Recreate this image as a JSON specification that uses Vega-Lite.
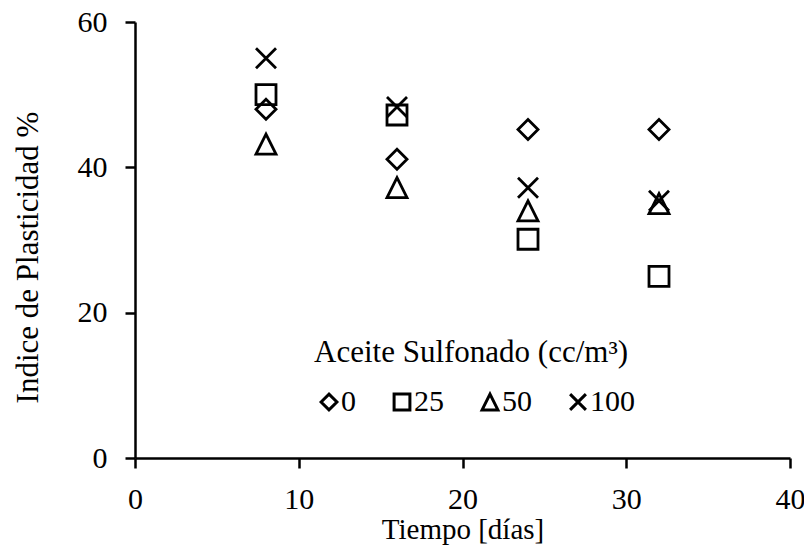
{
  "$schema": "https://vega.github.io/schema/vega-lite/v6.json",
  "width": 655,
  "height": 436,
  "autosize": {"type": "none"},
  "padding": {"left": 135, "top": 22, "right": 14, "bottom": 90},
  "background": "white",
  "config": {"view": {"stroke": null}, "font": "Liberation Serif"},
  "data": {"values": [
    {"dias": 8, "aceite": 0, "ip": 48.0},
    {"dias": 8, "aceite": 25, "ip": 50.0},
    {"dias": 8, "aceite": 50, "ip": 43.2},
    {"dias": 8, "aceite": 100, "ip": 55.0},
    {"dias": 16, "aceite": 0, "ip": 41.1},
    {"dias": 16, "aceite": 25, "ip": 47.2},
    {"dias": 16, "aceite": 50, "ip": 37.2},
    {"dias": 16, "aceite": 100, "ip": 48.3},
    {"dias": 24, "aceite": 0, "ip": 45.2},
    {"dias": 24, "aceite": 25, "ip": 30.1},
    {"dias": 24, "aceite": 50, "ip": 34.0},
    {"dias": 24, "aceite": 100, "ip": 37.2},
    {"dias": 32, "aceite": 0, "ip": 45.2},
    {"dias": 32, "aceite": 25, "ip": 25.0},
    {"dias": 32, "aceite": 50, "ip": 35.0},
    {"dias": 32, "aceite": 100, "ip": 35.4}
  ]},
  "mark": {"type": "point", "filled": false, "size": 400, "strokeWidth": 2.8, "opacity": 1, "color": "black"},
  "encoding": {
    "x": {
      "field": "dias", "type": "quantitative",
      "scale": {"domain": [0, 40], "nice": false, "zero": false},
      "axis": {
        "values": [0, 10, 20, 30, 40], "grid": false, "title": "Tiempo [días]",
        "domainColor": "black", "domainWidth": 2.5, "tickColor": "black", "tickWidth": 2.5, "tickSize": 10,
        "labelFont": "Liberation Serif", "labelFontSize": 30, "labelColor": "black", "labelPadding": 16,
        "labelFlush": false,
        "titleFont": "Liberation Serif", "titleFontSize": 29, "titleFontWeight": "normal", "titleColor": "black", "titlePadding": 1
      }
    },
    "y": {
      "field": "ip", "type": "quantitative",
      "scale": {"domain": [0, 60], "nice": false},
      "axis": {
        "values": [0, 20, 40, 60], "grid": false, "title": "Indice de Plasticidad %",
        "domainColor": "black", "domainWidth": 2.5, "tickColor": "black", "tickWidth": 2.5, "tickSize": 10,
        "labelFont": "Liberation Serif", "labelFontSize": 30, "labelColor": "black", "labelPadding": 18,
        "labelFlush": false,
        "titleFont": "Liberation Serif", "titleFontSize": 31, "titleFontWeight": "normal", "titleColor": "black", "titlePadding": 33,
        "titleY": 235
      }
    },
    "shape": {
      "field": "aceite", "type": "nominal",
      "scale": {"domain": [0, 25, 50, 100], "range": ["diamond", "square", "M0,-1L1,1L-1,1Z", "M-1,-1L1,1M1,-1L-1,1"]},
      "legend": {
        "title": "Aceite Sulfonado (cc/m³)", "titleLimit": 500,
        "orient": "none", "legendX": 179, "legendY": 316, "direction": "horizontal", "columns": 4,
        "padding": 0, "columnPadding": 31, "labelOffset": -3,
        "symbolSize": 250, "symbolStrokeWidth": 3, "symbolStrokeColor": "black", "symbolFillColor": "transparent",
        "labelFont": "Liberation Serif", "labelFontSize": 30, "labelColor": "black",
        "titleFont": "Liberation Serif", "titleFontSize": 31, "titleFontWeight": "normal", "titleColor": "black", "titlePadding": 18
      }
    }
  }
}
